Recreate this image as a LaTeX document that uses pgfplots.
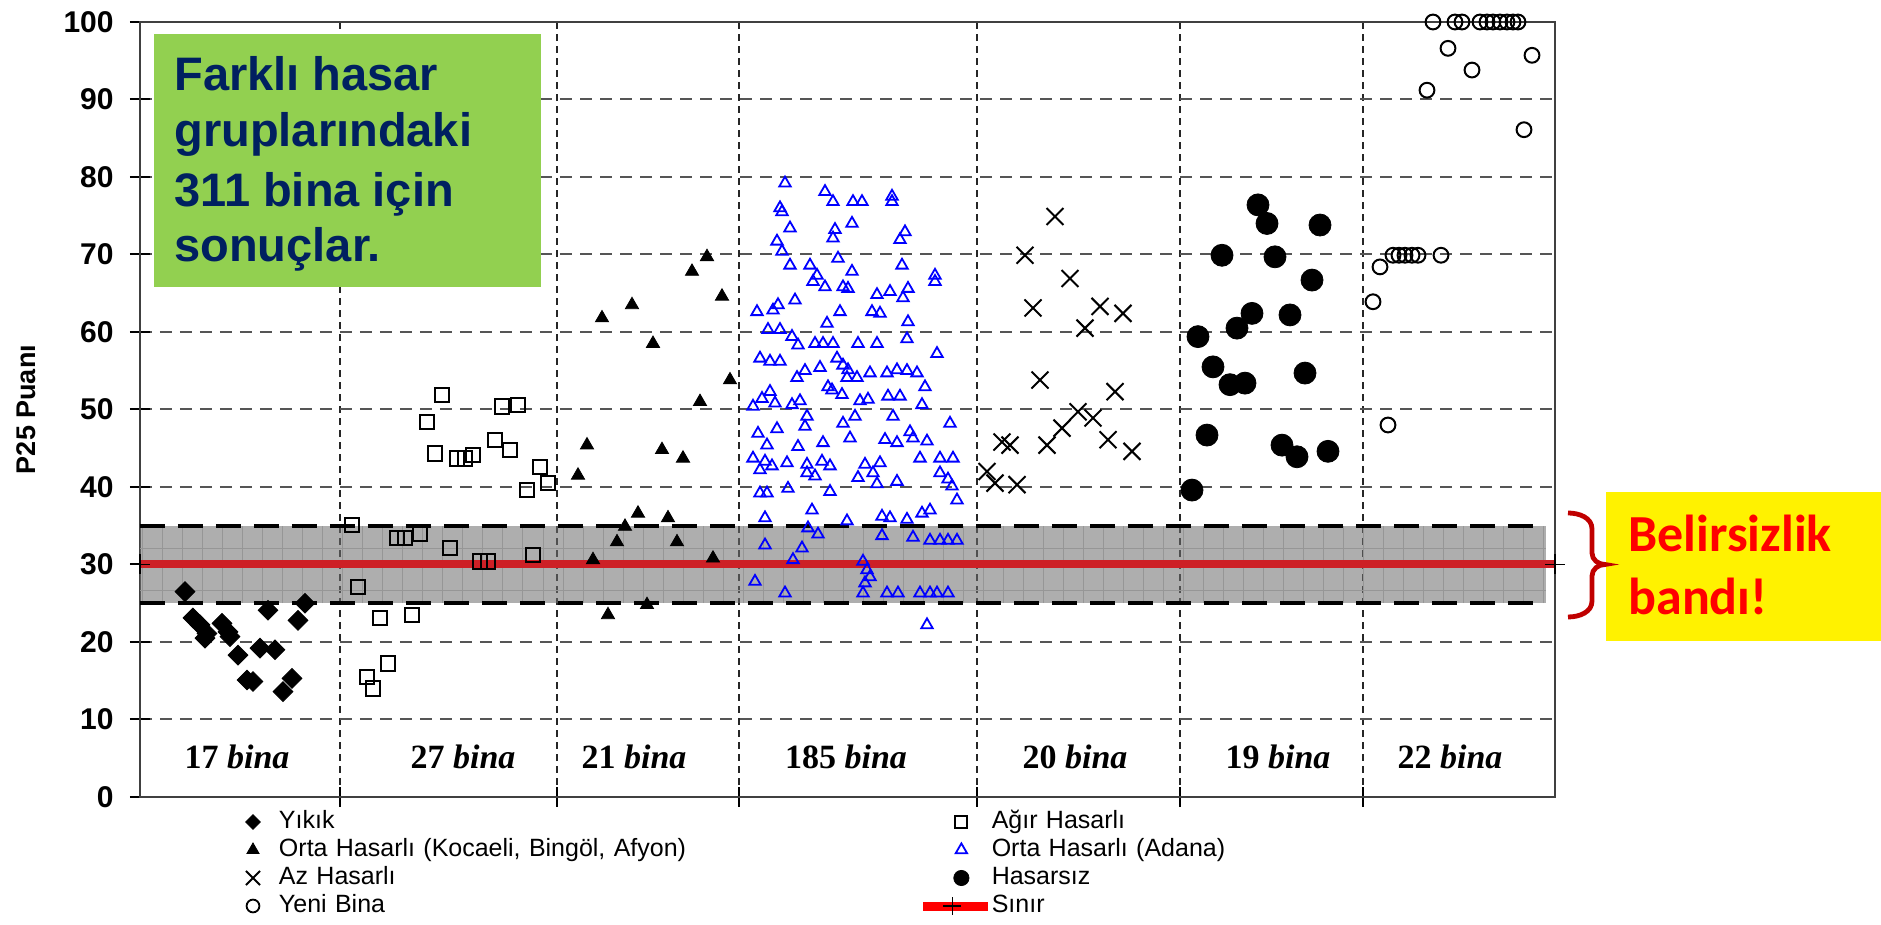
\documentclass[border=0pt]{standalone}
\usepackage{pgfplots}
\pgfplotsset{compat=1.18}
\usepackage{fontspec}
\setmainfont{Liberation Sans}
\newfontfamily\timesf{Liberation Serif}
\newfontfamily\calibri{Carlito}
\definecolor{navy}{RGB}{0,32,96}
\definecolor{pptgreen}{RGB}{146,208,80}
\definecolor{darkred}{RGB}{192,0,0}
\definecolor{bandred}{RGB}{205,32,38}
\definecolor{bandgray}{RGB}{112,112,112}
\definecolor{bandline}{RGB}{150,150,150}
\definecolor{gridgray}{RGB}{85,85,85}

\pgfplotstableread{
x y
45 26.5
53 23.1
60 22.2
67 21.1
65 20.5
82 22.4
88 21.3
90 20.7
98 18.3
107 15.1
113 14.9
120 19.2
135 19.0
128 24.1
143 13.6
152 15.3
158 22.8
165 25.0
}\yikik

\pgfplotstableread{
x y
302 51.9
287 48.4
362 50.4
378 50.6
295 44.3
317 43.7
325 43.7
333 44.1
355 46.1
370 44.8
400 42.6
408 40.5
387 39.6
212 35.1
257 33.4
265 33.4
280 34.0
310 32.1
340 30.4
348 30.4
393 31.2
218 27.1
240 23.1
272 23.5
248 17.2
227 15.5
233 14.0
}\agir

\pgfplotstableread{
x y
567 69.7
552 67.8
582 64.6
492 63.5
462 61.8
513 58.5
590 53.8
560 51.0
447 45.4
522 44.8
438 41.5
543 43.7
498 36.6
528 36.0
485 34.9
477 32.9
537 32.9
453 30.6
573 30.8
507 24.8
468 23.5
}\ortak

\pgfplotstableread{
x y
645 79.2
685 78.1
693 76.8
713 76.8
722 76.8
752 77.5
752 76.8
640 76.0
642 75.5
650 73.4
695 73.2
712 74.0
693 72.1
765 72.9
760 71.9
637 71.7
642 70.4
650 68.6
670 68.6
698 69.5
712 67.8
762 68.6
677 67.3
673 66.5
685 65.8
703 65.8
708 65.6
795 67.3
795 66.5
737 64.8
750 65.2
768 65.6
763 64.4
617 62.6
633 62.8
638 63.5
655 64.1
700 62.6
732 62.6
740 62.4
687 61.1
768 61.3
628 60.3
640 60.3
652 59.4
658 58.3
675 58.5
683 58.5
693 58.5
718 58.5
737 58.5
767 59.1
797 57.2
620 56.6
630 56.2
640 56.2
697 56.6
703 55.7
708 55.1
680 55.4
665 55.0
657 54.1
707 54.1
717 54.1
730 54.7
747 54.7
757 55.1
767 55.0
777 54.7
785 52.9
688 52.9
692 52.5
702 51.9
630 52.3
622 51.4
613 50.4
635 50.8
652 50.6
660 51.1
720 51.1
728 51.3
748 51.7
760 51.7
782 50.6
667 49.1
715 49.1
753 49.1
665 47.8
703 48.2
810 48.2
618 46.9
637 47.5
710 46.3
745 46.1
757 45.7
770 47.1
773 46.3
787 45.9
627 45.4
658 45.2
683 45.7
613 43.7
625 43.3
632 42.7
647 43.1
667 42.9
682 43.3
690 42.7
725 42.9
740 43.1
780 43.7
800 43.7
813 43.7
620 42.2
667 41.8
675 41.4
718 41.2
733 41.8
737 40.4
757 40.7
800 41.8
808 41.0
620 39.2
627 39.2
648 39.8
690 39.4
812 40.1
817 38.3
672 37.0
625 36.0
707 35.6
742 36.2
750 36.0
767 35.8
782 36.6
790 37.0
668 34.7
678 33.9
742 33.7
773 33.5
790 33.1
800 33.1
808 33.1
817 33.1
625 32.5
662 32.1
653 30.6
723 30.4
727 29.3
730 28.4
725 27.6
615 27.8
645 26.3
723 26.3
747 26.3
758 26.3
780 26.3
790 26.3
797 26.3
808 26.3
787 22.2
}\ortaa

\pgfplotstableread{
x y
915 74.9
885 69.9
930 66.9
893 63.1
960 63.3
983 62.4
945 60.5
900 53.8
975 52.3
938 49.7
953 48.9
922 47.6
907 45.4
968 46.1
992 44.6
862 45.8
870 45.4
847 42.0
855 40.5
877 40.3
}\az

\pgfplotstableread{
x y
1118 76.4
1127 74.0
1180 73.8
1082 69.9
1135 69.7
1172 66.7
1112 62.4
1150 62.2
1097 60.5
1058 59.4
1073 55.5
1090 53.2
1105 53.4
1165 54.7
1067 46.7
1142 45.4
1157 43.9
1188 44.6
1052 39.6
}\hasarsiz

\pgfplotstableread{
x y
1293 100
1315 100
1322 100
1340 100
1347 100
1353 100
1360 100
1367 100
1373 100
1378 100
1308 96.6
1392 95.7
1332 93.8
1287 91.2
1384 86.1
1253 69.9
1259 69.9
1265 69.9
1272 69.9
1278 69.9
1301 69.9
1240 68.4
1233 63.9
1248 48.0
}\yeni

\begin{document}
\begin{tikzpicture}
\path (-70pt,-64pt) rectangle (870.5pt,398.5pt);
\begin{axis}[
  at={(0,0)}, anchor=south west,
  scale only axis, width=707.5pt, height=387.5pt,
  xmin=0, xmax=1415, ymin=0, ymax=100,
  clip=false,
  axis line style={black!75, line width=1.2pt},
  ytick={0,10,...,100},
  xtick={200,417,599,837,1040,1223},
  xticklabels={},
  ytick pos=left, xtick pos=bottom,
  tick align=center, major tick length=10pt,
  tick style={black, line width=1pt},
  ymajorgrids, xmajorgrids,
  y grid style={gridgray, line width=1pt, dash pattern=on 6pt off 4pt},
  x grid style={black!85, line width=1pt, dash pattern=on 3.5pt off 2.5pt},
  /pgf/number format/assume math mode=true,
  yticklabel style={font=\fontsize{15}{15}\selectfont\bfseries, inner sep=0pt, anchor=east, xshift=-8pt},
  ylabel={P25 Puanı},
  ylabel style={font=\fontsize{13.5}{13.5}\selectfont\bfseries, at={(axis description cs:-0.0806,0.5)}, anchor=center},
  legend columns=2,
  legend cell align=left,
  legend style={at={(0.05583,-0.01419)}, anchor=north west, draw=none, fill=none,
    inner sep=0pt, outer sep=0pt, row sep=0pt, column sep=0pt,
    /tikz/column 2/.style={column sep=12pt},
    /tikz/column 3/.style={column sep=2pt},
    font=\fontsize{12.5}{12.5}\selectfont,
    nodes={inner sep=0pt, text width=310pt, text height=9pt, text depth=2.5pt}},
  legend image code/.code={\path[draw=none, fill=none] (-17pt,-7pt) rectangle (13pt,7pt); \draw[#1] plot coordinates {(0pt,0pt)};},
]
% data
\addplot[only marks, mark=square*, mark size=3.5pt, mark options={rotate=45, fill=black, draw=black}, forget plot] table {\yikik};
\addplot[only marks, mark=square, mark size=3.6pt, mark options={draw=black, line width=1pt}, forget plot] table {\agir};
\addplot[only marks, mark=triangle*, mark size=3.8pt, mark options={fill=black, draw=black}, forget plot] table {\ortak};
\addplot[only marks, mark=triangle, mark size=3.3pt, mark options={draw=blue, line width=0.9pt}, forget plot] table {\ortaa};
\addplot[only marks, mark=x, mark size=6pt, mark options={draw=black, line width=1pt}, forget plot] table {\az};
\addplot[only marks, mark=*, mark size=5.5pt, mark options={fill=black, draw=black}, forget plot] table {\hasarsiz};
\addplot[only marks, mark=o, mark size=3.7pt, mark options={draw=black, line width=1pt}, forget plot] table {\yeni};
% band
\addplot[draw=none, fill=bandgray, fill opacity=0.565, forget plot] coordinates {(0,25) (1406,25) (1406,35) (0,35)} -- cycle;
\pgfplotsinvokeforeach{3,23,...,1403}{
  \addplot[bandline, line width=0.5pt, forget plot] coordinates {(#1,25) (#1,35)};
}
\addplot[bandline, line width=0.5pt, forget plot] coordinates {(0,26.7) (1406,26.7)};
\addplot[bandline, line width=0.5pt, forget plot] coordinates {(0,32) (1406,32)};
\addplot[bandred, line width=4pt, forget plot] coordinates {(0,30) (1415,30)};
\addplot[only marks, mark=+, mark size=5pt, mark options={draw=black, line width=0.8pt}, forget plot] coordinates {(0,30) (1415,30)};
\addplot[black, line width=2pt, dash pattern=on 12.5pt off 6.5pt, forget plot] coordinates {(0,35) (1397,35)};
\addplot[black, line width=2pt, dash pattern=on 12.5pt off 6.5pt, forget plot] coordinates {(0,25) (1397,25)};
% legend
\addlegendimage{only marks, mark=square*, mark size=2.6pt, mark options={rotate=45, fill=black, draw=black}}
\addlegendentry{Yıkık}
\addlegendimage{only marks, mark=square, mark size=3pt, mark options={draw=black, line width=0.9pt}}
\addlegendentry{Ağır Hasarlı}
\addlegendimage{only marks, mark=triangle*, mark size=3.5pt, mark options={fill=black, draw=black}}
\addlegendentry{Orta Hasarlı (Kocaeli, Bingöl, Afyon)}
\addlegendimage{only marks, mark=triangle, mark size=3.3pt, mark options={draw=blue, line width=0.9pt}}
\addlegendentry{Orta Hasarlı (Adana)}
\addlegendimage{only marks, mark=x, mark size=5pt, mark options={draw=black, line width=0.9pt}}
\addlegendentry{Az Hasarlı}
\addlegendimage{only marks, mark=*, mark size=3.8pt, mark options={fill=black, draw=black}}
\addlegendentry{Hasarsız}
\addlegendimage{only marks, mark=o, mark size=3.2pt, mark options={draw=black, line width=0.9pt}}
\addlegendentry{Yeni Bina}
\addlegendimage{legend image code/.code={\path[draw=none, fill=none] (-17pt,-7pt) rectangle (13pt,7pt); \fill[red] (-19pt,-2pt) rectangle (13pt,2pt); \draw[black, line width=0.8pt] (-9pt,0pt) -- (0pt,0pt) (-4.5pt,-4.5pt) -- (-4.5pt,4.5pt);}}
\addlegendentry{Sınır}
% group labels
\node[anchor=base, font=\fontsize{17}{17}\selectfont\timesf\bfseries] at (axis cs:97,3.7) {17 \textit{bina}};
\node[anchor=base, font=\fontsize{17}{17}\selectfont\timesf\bfseries] at (axis cs:323,3.7) {27 \textit{bina}};
\node[anchor=base, font=\fontsize{17}{17}\selectfont\timesf\bfseries] at (axis cs:494,3.7) {21 \textit{bina}};
\node[anchor=base, font=\fontsize{17}{17}\selectfont\timesf\bfseries] at (axis cs:706,3.7) {185 \textit{bina}};
\node[anchor=base, font=\fontsize{17}{17}\selectfont\timesf\bfseries] at (axis cs:935,3.7) {20 \textit{bina}};
\node[anchor=base, font=\fontsize{17}{17}\selectfont\timesf\bfseries] at (axis cs:1138,3.7) {19 \textit{bina}};
\node[anchor=base, font=\fontsize{17}{17}\selectfont\timesf\bfseries] at (axis cs:1310,3.7) {22 \textit{bina}};
\end{axis}
% green annotation
\fill[pptgreen] (7pt,255pt) rectangle (200.5pt,381.5pt);
\begin{scope}[every node/.style={anchor=base west, inner sep=0pt, text=navy, font=\fontsize{23.5}{28.5}\selectfont\bfseries}]
\node at (17pt,353pt) {Farklı hasar};
\node at (17pt,325pt) {gruplarındaki};
\node at (17pt,295pt) {311 bina için};
\node at (17pt,267.5pt) {sonuçlar.};
\end{scope}
% yellow annotation
\fill[yellow] (733pt,78pt) rectangle (870.5pt,152.5pt);
\begin{scope}[every node/.style={anchor=base west, inner sep=0pt, text=red, font=\fontsize{26}{31}\selectfont\calibri\bfseries}]
\node at (744pt,122.5pt) {Belirsizlik};
\node at (744pt,91pt) {bandı!};
\end{scope}
\draw[darkred, line width=2.4pt] (714pt,142pt) to[out=0,in=90] (726pt,134pt) -- (726pt,122pt) to[out=-90,in=180] (732.5pt,116.25pt) to[out=180,in=90] (726pt,110.5pt) -- (726pt,98pt) to[out=-90,in=0] (714pt,90pt);
\end{tikzpicture}
\end{document}
